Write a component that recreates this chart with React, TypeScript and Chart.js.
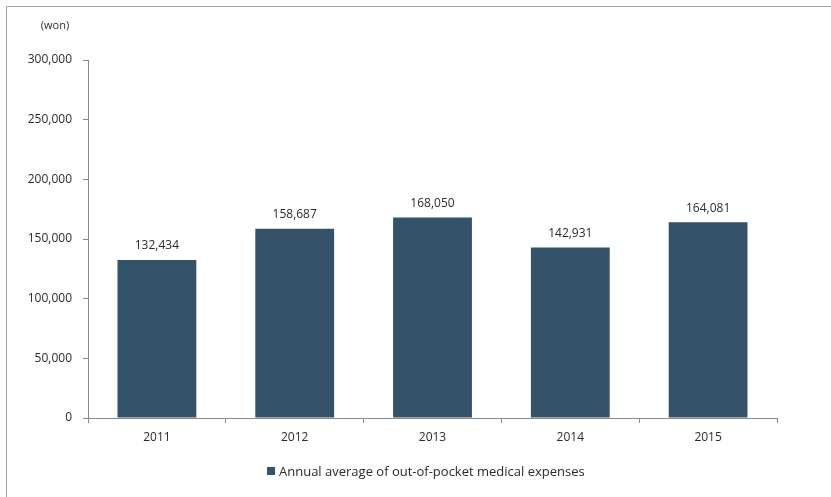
import React, { useEffect, useRef } from "react";
import { Chart, registerables } from "chart.js";

Chart.register(...registerables);

const years = ["2011", "2012", "2013", "2014", "2015"];
const expenses = [132434, 158687, 168050, 142931, 164081];
const seriesName = "Annual average of out-of-pocket medical expenses";
const unitLabel = "(won)";
const yMax = 300000;
const yStep = 50000;

const FONT = "'Open Sans', 'Liberation Sans', sans-serif";
const BAR = "#34526a";
const TEXT = "#2a2a2a";
const AXIS = "#8a8a8a";

const fmt = (v: number) => v.toLocaleString("en-US");

const extras = {
  id: "extras",
  afterDraw(chart: any) {
    const ctx = chart.ctx;
    ctx.save();
    // outer frame (top & left visible)
    ctx.strokeStyle = "#a0a0a0";
    ctx.lineWidth = 1;
    ctx.beginPath();
    ctx.moveTo(6.5, chart.height);
    ctx.lineTo(6.5, 6.5);
    ctx.lineTo(chart.width, 6.5);
    ctx.stroke();

    // unit label
    ctx.fillStyle = TEXT;
    ctx.font = `11px ${FONT}`;
    ctx.textAlign = "center";
    ctx.textBaseline = "middle";
    ctx.fillText(unitLabel, 55, 26);

    // value labels
    const meta = chart.getDatasetMeta(0);
    ctx.font = `12px ${FONT}`;
    ctx.textBaseline = "middle";
    meta.data.forEach((bar: any, i: number) => {
      ctx.fillText(fmt(expenses[i]), bar.x, bar.y - 14);
    });

    // legend
    ctx.fillStyle = BAR;
    ctx.fillRect(267, 467, 8, 8);
    ctx.fillStyle = TEXT;
    ctx.textAlign = "left";
    ctx.font = `13px ${FONT}`;
    ctx.fillText(seriesName, 279, 472);
    ctx.restore();
  },
};

export default function App() {
  const ref = useRef<HTMLCanvasElement>(null);
  useEffect(() => {
    document.body.style.margin = "0";
    const chart = new Chart(ref.current!, {
      type: "bar",
      data: {
        labels: years,
        datasets: [
          {
            label: seriesName,
            data: expenses,
            backgroundColor: BAR,
            borderWidth: 0,
            categoryPercentage: 1,
            barPercentage: 0.572,
          },
        ],
      },
      options: {
        animation: false,
        responsive: false,
        devicePixelRatio: 1,
        layout: { padding: { left: 0, right: 54, top: 60, bottom: 49 } },
        plugins: { legend: { display: false }, tooltip: { enabled: false } },
        scales: {
          x: {
            afterFit: (s: any) => {
              s.height = 30;
            },
            grid: {
              drawOnChartArea: false,
              offset: true,
              color: AXIS,
              tickLength: 5,
            },
            border: { color: AXIS },
            ticks: {
              color: TEXT,
              font: { family: FONT, size: 12 },
              padding: 7,
            },
          },
          y: {
            min: 0,
            max: yMax,
            afterFit: (s: any) => {
              s.width = 88;
            },
            grid: { drawOnChartArea: false, color: AXIS, tickLength: 5 },
            border: { color: AXIS },
            ticks: {
              stepSize: yStep,
              color: TEXT,
              font: { family: FONT, size: 12 },
              padding: 11,
              callback: (v: any) => fmt(Number(v)),
            },
          },
        },
      },
      plugins: [extras],
    });
    return () => chart.destroy();
  }, []);
  return <canvas ref={ref} width={831} height={497} style={{ display: "block" }} />;
}
